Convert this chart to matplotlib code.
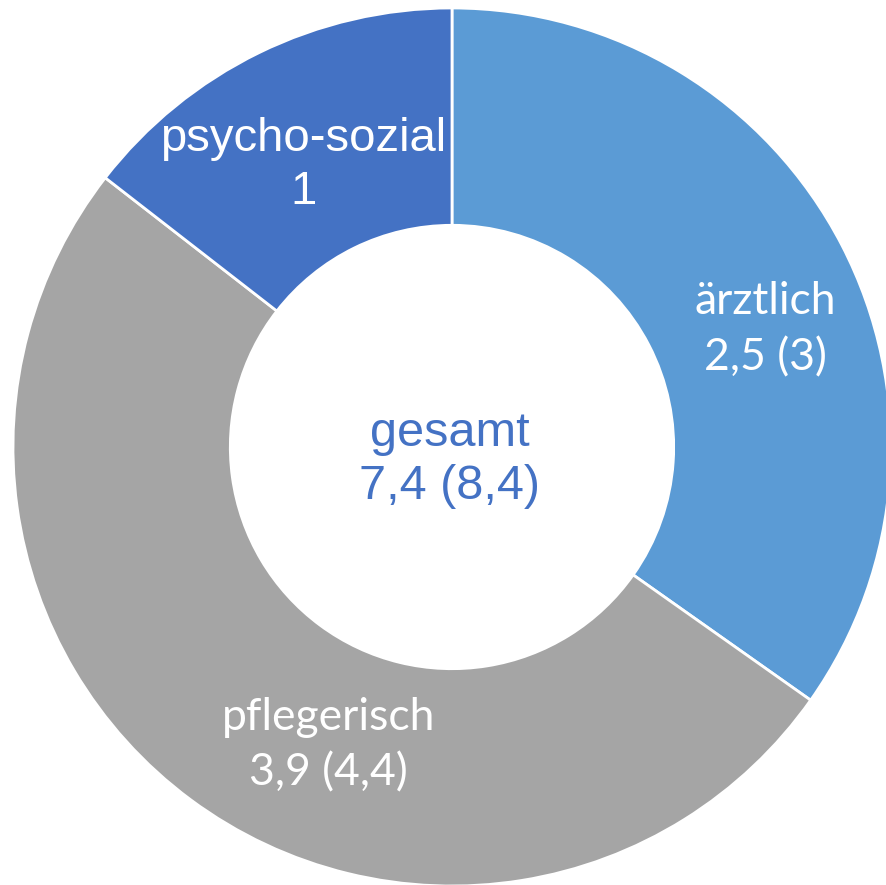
import matplotlib
matplotlib.use('Agg')
import matplotlib.pyplot as plt

# Stellenanteile; die Segmentgroessen sind aus dem Bild abgelesen,
# die Beschriftungen sind wie im Original getippt
labels = ['ärztlich', 'pflegerisch', 'psycho-sozial']
values = [2.4, 3.5, 1.0]
label_texts = ['ärztlich\n2,5 (3)', 'pflegerisch\n3,9 (4,4)', 'psycho-sozial\n1']
center_text = 'gesamt\n7,4 (8,4)'
colors = ['#5B9BD5', '#A5A5A5', '#4472C4']

fig = plt.figure(figsize=(8.86, 8.85), dpi=100)
ax = fig.add_axes([0, 0, 1, 1])

wedges, _ = ax.pie(values, colors=colors, startangle=90, counterclock=False,
                   radius=1.0, wedgeprops=dict(width=0.495, edgecolor='white',
                                               linewidth=2))

# label positions (data coords, radius 1 = outer edge)
label_pos = [(0.713, 0.267), (-0.282, -0.679), (-0.339, 0.642)]
label_fonts = [['Lato', 'DejaVu Sans'], ['Lato', 'DejaVu Sans'],
               ['Liberation Sans', 'DejaVu Sans']]
label_sizes = [32, 32, 34]
label_spacing = [1.45, 1.45, 1.26]
for txt, (x, y), fam, fs, ls in zip(label_texts, label_pos, label_fonts,
                                    label_sizes, label_spacing):
    ax.text(x, y, txt, ha='center', va='center', color='white',
            fontsize=fs, family=fam, linespacing=ls)

ax.text(-0.005, -0.03, center_text, ha='center', va='center', color='#4472C4',
        fontsize=35, family=['Liberation Sans', 'DejaVu Sans'], linespacing=1.23)

ax.set_xlim(-1.0296, 0.9886)
ax.set_ylim(-0.9977, 1.0182)
ax.set_aspect('auto')
ax.axis('off')

fig.savefig('out.png', dpi=100, facecolor='white')
